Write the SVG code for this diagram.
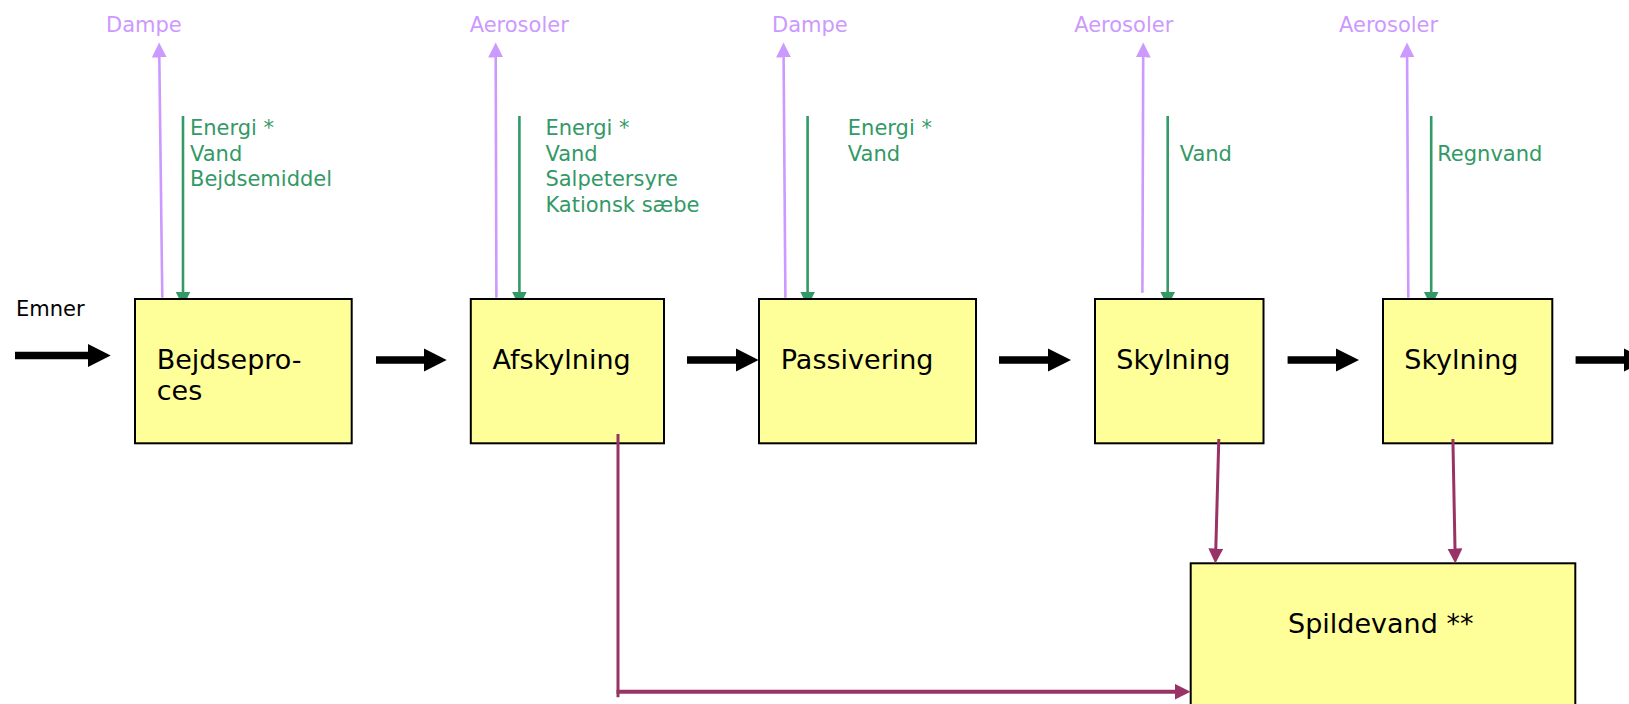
<svg xmlns="http://www.w3.org/2000/svg" width="1629" height="704" viewBox="0 0 1629 704">
<style>
text{font-family:"DejaVu Sans","Liberation Sans",sans-serif}
.box{fill:#FFFF99;stroke:#000;stroke-width:2}
.lbl{font-size:27px;fill:#000}
.out{font-size:21px;fill:#CC99FF}
.in{font-size:21px;fill:#339966}
.purple{stroke:#CC99FF;stroke-width:2.6;fill:none}
.green{stroke:#339966;stroke-width:2.6;fill:none}
.waste{stroke:#993366;stroke-width:3;fill:none}
.flow{fill:#000}
</style>
<defs>
<marker id="hp" markerUnits="userSpaceOnUse" markerWidth="16" markerHeight="16" refX="0.5" refY="7.5" orient="auto"><path d="M0,0 L15,7.5 L0,15 z" fill="#CC99FF"/></marker>
<marker id="hg" markerUnits="userSpaceOnUse" markerWidth="16" markerHeight="16" refX="0.5" refY="7.5" orient="auto"><path d="M0,0 L15,7.5 L0,15 z" fill="#339966"/></marker>
<marker id="hm" markerUnits="userSpaceOnUse" markerWidth="17" markerHeight="17" refX="0.5" refY="7.5" orient="auto"><path d="M0,0 L15,7.5 L0,15 z" fill="#993366"/></marker>
<marker id="hm2" markerUnits="userSpaceOnUse" markerWidth="17" markerHeight="17" refX="0.5" refY="8" orient="auto"><path d="M0,0 L16,8 L0,16 z" fill="#993366"/></marker>
</defs>

<g id="connectors">
<path class="flow" d="M15,351.7 H88 V344 L110.7,355.5 L88,367 V359.3 H15 z"/>
<path class="flow" d="M376,356.2 H424 V348.5 L446.7,360 L424,371.5 V363.8 H376 z"/>
<path class="flow" d="M687,356.2 H736 V348.5 L758.6,360 L736,371.5 V363.8 H687 z"/>
<path class="flow" d="M999,356.2 H1048 V348.5 L1071,360 L1048,371.5 V363.8 H999 z"/>
<path class="flow" d="M1287.6,356.2 H1336 V348.5 L1359,360 L1336,371.5 V363.8 H1287.6 z"/>
<path class="flow" d="M1575.6,356.2 H1624 V348.5 L1647,360 L1624,371.5 V363.8 H1575.6 z"/>

<line class="purple" x1="162.3" y1="297.7" x2="159.3" y2="57" marker-end="url(#hp)"/>
<line class="purple" x1="496.4" y1="297.7" x2="495.7" y2="57" marker-end="url(#hp)"/>
<line class="purple" x1="785.4" y1="297.7" x2="783.6" y2="57" marker-end="url(#hp)"/>
<line class="purple" x1="1142.4" y1="292.7" x2="1143.2" y2="57" marker-end="url(#hp)"/>
<line class="purple" x1="1408.3" y1="297.7" x2="1407.1" y2="57" marker-end="url(#hp)"/>

<line class="green" x1="183" y1="116" x2="183" y2="292" marker-end="url(#hg)"/>
<line class="green" x1="519.4" y1="116" x2="519.4" y2="292" marker-end="url(#hg)"/>
<line class="green" x1="807.6" y1="116" x2="807.6" y2="292" marker-end="url(#hg)"/>
<line class="green" x1="1167.7" y1="116" x2="1167.7" y2="292" marker-end="url(#hg)"/>
<line class="green" x1="1431.2" y1="116" x2="1431.2" y2="292" marker-end="url(#hg)"/>
</g>

<g id="node-bejdseproces">
<rect class="box" x="135" y="299" width="216.7" height="144.3"/>
<text class="lbl" x="156.7" y="369">Bejdsepro-</text>
<text class="lbl" x="156.7" y="400">ces</text>
</g>
<g id="node-afskylning">
<rect class="box" x="470.8" y="299" width="193.2" height="144.3"/>
<text class="lbl" x="492.6" y="369">Afskylning</text>
</g>
<g id="node-passivering">
<rect class="box" x="759" y="299" width="217" height="144.3"/>
<text class="lbl" x="780.8" y="369">Passivering</text>
</g>
<g id="node-skylning1">
<rect class="box" x="1095" y="299" width="168.5" height="144.3"/>
<text class="lbl" x="1116.3" y="369">Skylning</text>
</g>
<g id="node-skylning2">
<rect class="box" x="1383" y="299" width="169.3" height="144.3"/>
<text class="lbl" x="1404.3" y="369">Skylning</text>
</g>
<g id="node-spildevand">
<rect class="box" x="1190.7" y="563.3" width="384.6" height="160"/>
<text class="lbl" x="1288" y="633">Spildevand **</text>
</g>

<g id="waste-connectors">
<line class="waste" x1="618" y1="434" x2="618" y2="697.3"/>
<line class="waste" x1="616.5" y1="691.7" x2="1175" y2="691.7" style="stroke-width:4" marker-end="url(#hm2)"/>
<line class="waste" x1="1218.8" y1="439" x2="1215.8" y2="549" marker-end="url(#hm)"/>
<line class="waste" x1="1452.9" y1="439" x2="1455" y2="549" marker-end="url(#hm)"/>
</g>

<g id="labels">
<text x="16" y="316" style="font-size:21px;fill:#000">Emner</text>
<text class="out" x="106" y="31.7">Dampe</text>
<text class="out" x="469.7" y="31.7">Aerosoler</text>
<text class="out" x="772" y="31.7">Dampe</text>
<text class="out" x="1074.2" y="31.7">Aerosoler</text>
<text class="out" x="1339" y="31.7">Aerosoler</text>

<text class="in" x="190" y="135">Energi *</text>
<text class="in" x="190" y="161">Vand</text>
<text class="in" x="190" y="186">Bejdsemiddel</text>

<text class="in" x="545.4" y="135">Energi *</text>
<text class="in" x="545.4" y="161">Vand</text>
<text class="in" x="545.4" y="186">Salpetersyre</text>
<text class="in" x="545.4" y="212">Kationsk sæbe</text>

<text class="in" x="847.8" y="135">Energi *</text>
<text class="in" x="847.8" y="161">Vand</text>

<text class="in" x="1179.7" y="161">Vand</text>
<text class="in" x="1437.2" y="161">Regnvand</text>
</g>
</svg>
